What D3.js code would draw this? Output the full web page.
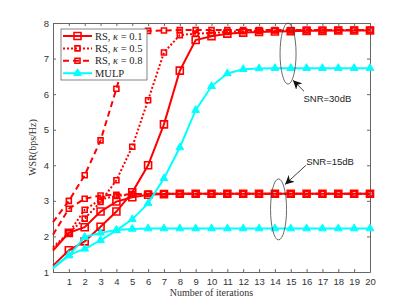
<!DOCTYPE html>
<html lang="en">
<head>
  <meta charset="UTF-8">
  <title>WSR vs iterations</title>
  <style>
    body { margin: 0; background: #fff; }
    .axis path, .axis line { stroke: #666; stroke-width: 1; }
    .axis text { font: 9.5px "Liberation Sans", Arial, sans-serif; fill: #333; }
    .lbl { font: 10px "Liberation Serif", serif; fill: #333; }
    .legend text { font: 10.5px "Liberation Serif", serif; fill: #222; }
    .note { font: 9.5px "Liberation Sans", Arial, sans-serif; fill: #222; }
  </style>
</head>
<body>
  <svg width="409" height="306"></svg>

  <script src="https://d3js.org/d3.v7.min.js"></script>
  <script>
    // iterations 0..20
    const iters = d3.range(0, 21);

    // SNR = 30 dB
    const rs01_30 = [1.18, 1.61, 1.86, 2.27, 2.70, 3.24, 4.0, 5.15, 6.66, 7.52, 7.63, 7.70, 7.73, 7.75, 7.76, 7.77, 7.78, 7.78, 7.79, 7.79, 7.79];
    const rs05_30 = [1.65, 2.10, 2.50, 2.97, 3.58, 4.52, 5.83, 7.17, 7.66, 7.70, 7.72, 7.75, 7.77, 7.78, 7.79, 7.79, 7.80, 7.80, 7.80, 7.80, 7.80];
    const rs08_30 = [2.40, 3.00, 3.72, 4.70, 6.15, 7.70, 7.78, 7.79, 7.80, 7.80, 7.80, 7.80, 7.80, 7.80, 7.80, 7.80, 7.80, 7.80, 7.80, 7.80, 7.80];
    const mulp_30 = [1.12, 1.48, 1.65, 1.89, 2.17, 2.48, 2.93, 3.63, 4.50, 5.55, 6.22, 6.58, 6.70, 6.72, 6.73, 6.73, 6.73, 6.73, 6.73, 6.73, 6.73];

    // SNR = 15 dB
    const rs01_15 = [1.60, 2.10, 2.26, 2.70, 2.98, 3.10, 3.17, 3.19, 3.20, 3.20, 3.20, 3.20, 3.20, 3.20, 3.20, 3.20, 3.20, 3.20, 3.20, 3.20, 3.20];
    const rs05_15 = [1.70, 2.10, 2.75, 3.04, 3.14, 3.18, 3.20, 3.20, 3.20, 3.20, 3.20, 3.20, 3.20, 3.20, 3.20, 3.20, 3.20, 3.20, 3.20, 3.20, 3.20];
    const rs08_15 = [2.05, 2.78, 3.06, 3.15, 3.17, 3.19, 3.20, 3.20, 3.20, 3.20, 3.20, 3.20, 3.20, 3.20, 3.20, 3.20, 3.20, 3.20, 3.20, 3.20, 3.20];
    const mulp_15 = [1.10, 1.46, 1.98, 2.10, 2.18, 2.21, 2.22, 2.22, 2.22, 2.22, 2.22, 2.22, 2.22, 2.22, 2.22, 2.22, 2.22, 2.22, 2.22, 2.22, 2.22];

    const xTicks = d3.range(1, 21);
    const yTicks = d3.range(1, 9);
    const legendNames = ["0.1", "0.5", "0.8", "MULP"];

    const svg = d3.select("svg");
    const m = { left: 53, right: 370, top: 23, bottom: 272 };

    const x = d3.scaleLinear().domain([0, 20]).range([m.left, m.right]);
    const y = d3.scaleLinear().domain([1, 8]).range([m.bottom, m.top]);

    // styles per series kind
    const kinds = {
      k01: { color: "#ff0000", dash: null, shape: "sq", size: 49 },
      k05: { color: "#ff0000", dash: "2,2", shape: "sq", size: 25 },
      k08: { color: "#ff0000", dash: "6,4", shape: "sq", size: 25 },
      mulp: { color: "#00ffff", dash: null, shape: "tri", size: 26 }
    };

    const series = [
      { vals: rs01_30, kind: "k01" }, { vals: rs05_30, kind: "k05" }, { vals: rs08_30, kind: "k08" },
      { vals: rs01_15, kind: "k01" }, { vals: rs05_15, kind: "k05" }, { vals: rs08_15, kind: "k08" },
      { vals: mulp_30, kind: "mulp" }, { vals: mulp_15, kind: "mulp" }
    ];

    // axes (ticks inside, box on)
    svg.append("g").attr("class", "axis")
      .attr("transform", `translate(0,${m.bottom})`)
      .call(d3.axisBottom(x).tickValues(xTicks).tickSizeInner(-3).tickSizeOuter(0).tickPadding(6));
    svg.append("g").attr("class", "axis")
      .attr("transform", `translate(0,${m.top})`)
      .call(d3.axisTop(x).tickValues(xTicks).tickSizeInner(-3).tickSizeOuter(0).tickFormat(""));
    svg.append("g").attr("class", "axis")
      .attr("transform", `translate(${m.left},0)`)
      .call(d3.axisLeft(y).tickValues(yTicks).tickFormat(d3.format("d")).tickSizeInner(-3).tickSizeOuter(0).tickPadding(4));
    svg.append("g").attr("class", "axis")
      .attr("transform", `translate(${m.right},0)`)
      .call(d3.axisRight(y).tickValues(yTicks).tickSizeInner(-3).tickSizeOuter(0).tickFormat(""));

    const line = d3.line().x((d, i) => x(iters[i])).y(d => y(d));
    const sym = k => d3.symbol().type(kinds[k].shape === "tri" ? d3.symbolTriangle : d3.symbolSquare).size(kinds[k].size);

    series.forEach(s => {
      const st = kinds[s.kind];
      svg.append("path")
        .attr("d", line(s.vals))
        .attr("fill", "none")
        .attr("stroke", st.color)
        .attr("stroke-width", 2)
        .attr("stroke-dasharray", st.dash);
      svg.append("g").selectAll("path")
        .data(s.vals.slice(1))
        .join("path")
        .attr("transform", (d, i) => `translate(${x(iters[i + 1])},${y(d)})`)
        .attr("d", sym(s.kind))
        .attr("fill", st.shape === "tri" ? st.color : "none")
        .attr("stroke", st.color)
        .attr("stroke-width", st.shape === "tri" ? 1 : 1.6);
    });

    // axis labels
    svg.append("text").attr("class", "lbl")
      .attr("x", (m.left + m.right) / 2).attr("y", 296)
      .attr("text-anchor", "middle").text("Number of iterations");
    svg.append("text").attr("class", "lbl")
      .attr("transform", `translate(36,${(m.top + m.bottom) / 2}) rotate(-90)`)
      .attr("text-anchor", "middle").text("WSR(bps/Hz)");

    // annotations (data units)
    const notes = [
      { label: "SNR=30dB", ex: 14.83, ey: 7.14, tx: 17.31, ty: 5.86, ax0: 15.84, ay0: 6.08, ax1: 15.14, ay1: 6.39 },
      { label: "SNR=15dB", ex: 14.23, ey: 2.76, tx: 17.48, ty: 4.10, ax0: 15.96, ay0: 4.0, ax1: 14.64, ay1: 3.46 }
    ];
    svg.append("defs").append("marker")
      .attr("id", "ah").attr("viewBox", "0 0 10 10").attr("refX", 10).attr("refY", 5)
      .attr("markerWidth", 9).attr("markerHeight", 9).attr("markerUnits", "userSpaceOnUse")
      .attr("orient", "auto")
      .append("path").attr("d", "M0,0 L10,5 L0,10 L3,5 Z").attr("fill", "#111");
    notes.forEach(n => {
      svg.append("ellipse")
        .attr("cx", x(n.ex)).attr("cy", y(n.ey)).attr("rx", 8).attr("ry", 30.5)
        .attr("fill", "none").attr("stroke", "#444").attr("stroke-width", 0.8);
      svg.append("line")
        .attr("x1", x(n.ax0)).attr("y1", y(n.ay0)).attr("x2", x(n.ax1)).attr("y2", y(n.ay1))
        .attr("stroke", "#111").attr("stroke-width", 0.8).attr("marker-end", "url(#ah)");
      svg.append("text").attr("class", "note")
        .attr("x", x(n.tx)).attr("y", y(n.ty)).attr("dy", "0.35em")
        .attr("text-anchor", "middle").text(n.label);
    });

    // legend
    const lg = svg.append("g").attr("class", "legend");
    lg.append("rect").attr("x", 61).attr("y", 29).attr("width", 86).attr("height", 51)
      .attr("fill", "#fff").attr("stroke", "#666").attr("stroke-width", 0.8);
    ["k01", "k05", "k08", "mulp"].forEach((k, i) => {
      const st = kinds[k];
      const ly = 36 + i * 12.4;
      lg.append("line").attr("x1", 63).attr("x2", 92).attr("y1", ly).attr("y2", ly)
        .attr("stroke", st.color).attr("stroke-width", 2).attr("stroke-dasharray", st.dash);
      lg.append("path").attr("transform", `translate(77.5,${ly})`).attr("d", sym(k))
        .attr("fill", st.shape === "tri" ? st.color : "none").attr("stroke", st.color)
        .attr("stroke-width", st.shape === "tri" ? 1 : 1.6);
      const t = lg.append("text").attr("x", 95).attr("y", ly).attr("dy", "0.35em");
      if (k === "mulp") {
        t.text(legendNames[i]);
      } else {
        t.append("tspan").text("RS, ");
        t.append("tspan").attr("font-style", "italic").text("κ");
        t.append("tspan").text(" = " + legendNames[i]);
      }
    });
  </script>
</body>
</html>
